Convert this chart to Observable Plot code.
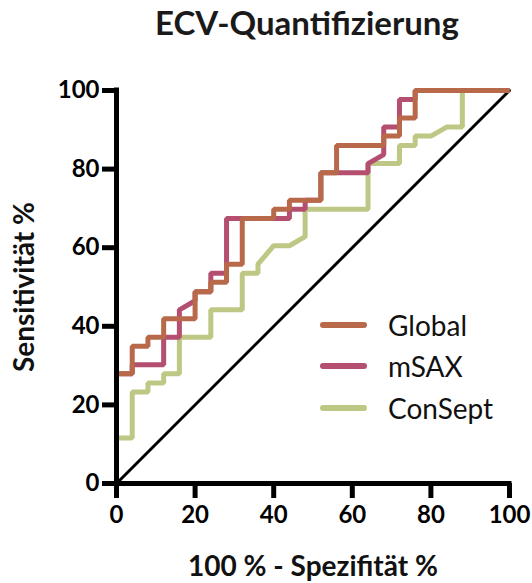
<!DOCTYPE html>
<html>
<head>
<meta charset="utf-8">
<script src="https://cdn.jsdelivr.net/npm/d3@7"></script>
<script src="https://cdn.jsdelivr.net/npm/@observablehq/plot@0.6"></script>
<style>
  html, body { margin: 0; padding: 0; background: #fff; }
  #wrap { position: relative; width: 532px; height: 583px; overflow: hidden; font-family: Lato, "Open Sans", sans-serif; }
  #titlebox { position: relative; height: 60px; }
  #title { position: absolute; left: 0; top: 0; width: 614px; line-height: 45px; text-align: center; font-weight: 700; font-size: 33px; color: #1a1a1a; }
  #legend { position: absolute; left: 320px; top: 304px; }
  .row { display: flex; align-items: center; height: 41.5px; }
  .swatch { width: 47px; height: 6px; border-radius: 3px; margin-right: 21px; }
  .lab { font-size: 28px; color: #111; line-height: 1; }
</style>
</head>
<body>
<div id="wrap">
  <div id="titlebox"><div id="title">ECV-Quantifizierung</div></div>
  <div id="chart"></div>
  <div id="legend"></div>
</div>
<script>
// Series names and colours
const seriesNames = ["Global", "mSAX", "ConSept"];
const seriesColors = ["#b8694a", "#b44f70", "#bfc784"];

// 100 % - Spezifität % (x) and Sensitivität % (y) for each ROC curve
const globalX = [0,0,4,4,8,8,12,12,20,20,24,24,28,28,32,32,40,40,44,44,52,52,56,56,68,68,72,72,76,76,100];
const globalY = [0,27.9,27.9,34.9,34.9,37.2,37.2,41.9,41.9,48.8,48.8,51.2,51.2,55.8,55.8,67.4,67.4,69.8,69.8,72.1,72.1,79.1,79.1,86.0,86.0,88.4,88.4,93.0,93.0,100,100];

const msaxX = [0,0,4,4,12,12,16,16,20,20,24,24,28,28,44,44,48,48,52,52,64,64,68,68,72,72,76,76,100];
const msaxY = [0,27.9,27.9,30.2,30.2,37.2,37.2,44.2,46.5,48.8,48.8,53.5,53.5,67.4,67.4,69.8,69.8,72.1,72.1,79.1,79.1,81.4,83.7,90.7,90.7,97.7,97.7,100,100];

const conseptX = [0,0,4,4,8,8,12,12,16,16,24,24,32,32,36,36,40,44,48,48,64,64,72,72,76,76,80,84,88,88,100];
const conseptY = [0,11.6,11.6,23.3,23.3,25.6,25.6,27.9,27.9,37.2,37.2,44.2,44.2,53.5,53.5,55.8,60.5,60.5,62.8,69.8,69.8,81.4,81.4,86.0,86.0,88.4,88.4,90.7,90.7,100,100];

// Reference (chance) line
const refX = [0, 100];
const refY = [0, 100];

// Tick labels
const ticks = [0, 20, 40, 60, 80, 100];

const xTitle = "100 % - Spezifität %";
const yTitle = "Sensitivität %";

function toRows(xs, ys, name) { return xs.map((x, i) => ({x, y: ys[i], series: name})); }
const rows = [
  ...toRows(conseptX, conseptY, "ConSept"),
  ...toRows(msaxX, msaxY, "mSAX"),
  ...toRows(globalX, globalY, "Global")
];
const refRows = refX.map((x, i) => ({x, y: refY[i]}));

const plot = Plot.plot({
  width: 532,
  height: 523,
  marginLeft: 116,
  marginRight: 23,
  marginTop: 30,
  marginBottom: 100,
  style: { fontFamily: "Lato, 'Open Sans', sans-serif", color: "#000", background: "#fff", overflow: "visible" },
  x: { domain: [0, 100], ticks },
  y: { domain: [0, 100], ticks },
  color: { domain: seriesNames, range: seriesColors },
  marks: [
    Plot.line(refRows, { x: "x", y: "y", stroke: "#000", strokeWidth: 3 }),
    ...["ConSept", "mSAX", "Global"].map(name =>
      Plot.line(rows.filter(d => d.series === name), {
        x: "x", y: "y", stroke: "series", strokeWidth: 5,
        strokeLinejoin: "miter", strokeLinecap: "butt"
      })
    ),
    Plot.ruleX([0], { stroke: "#000", strokeWidth: 5, strokeLinecap: "square" }),
    Plot.ruleY([0], { stroke: "#000", strokeWidth: 5, strokeLinecap: "square" }),
    Plot.axisX({ ticks, tickSize: 15, tickPadding: 7, strokeWidth: 5, fontSize: 24, fontWeight: "bold", label: null }),
    Plot.axisY({ ticks, tickSize: 14, tickPadding: 3, strokeWidth: 5, fontSize: 24, fontWeight: "bold", label: null }),
    Plot.text([xTitle], { frameAnchor: "bottom", dy: 92, fontSize: 28, fontWeight: "bold", fill: "#111" }),
    Plot.text([yTitle], { frameAnchor: "left", textAnchor: "middle", dx: -91, rotate: -90, fontSize: 28, fontWeight: "bold", fill: "#111" })
  ]
});
document.getElementById("chart").appendChild(plot);

const legend = document.getElementById("legend");
seriesNames.forEach((name, i) => {
  const row = document.createElement("div");
  row.className = "row";
  row.innerHTML = `<div class="swatch" style="background:${seriesColors[i]}"></div><div class="lab">${name}</div>`;
  legend.appendChild(row);
});
</script>
</body>
</html>
